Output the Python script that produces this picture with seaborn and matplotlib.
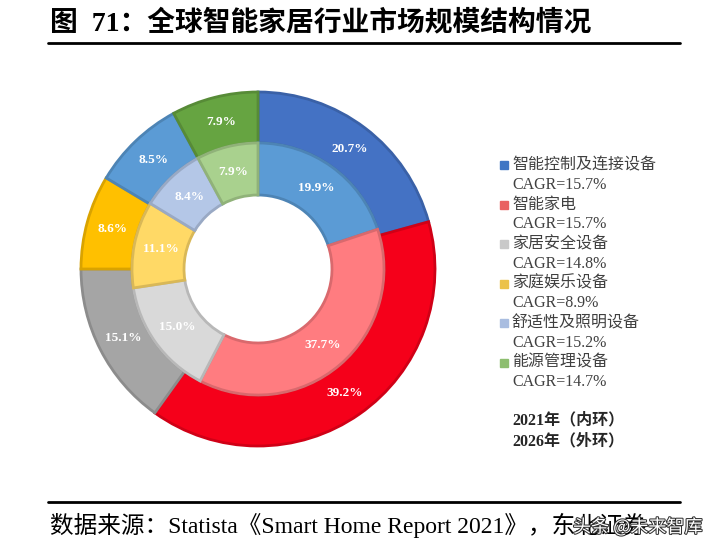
import numpy as np
import matplotlib
matplotlib.use("Agg")
import matplotlib.pyplot as plt
import matplotlib.colors as mcolors
import matplotlib.patheffects as pe
from matplotlib.patches import Rectangle
import seaborn as sns

# Data
categories = ["智能控制及连接设备", "智能家电", "家居安全设备", "家庭娱乐设备", "舒适性及照明设备", "能源管理设备"]
cagr = ["15.7%", "15.7%", "14.8%", "8.9%", "15.2%", "14.7%"]
share_2021 = [19.9, 37.7, 15.0, 11.1, 8.4, 7.9]   # inner ring
share_2026 = [20.7, 39.2, 15.1, 8.6, 8.5, 7.9]    # outer ring

outer_colors = ["#4472C4", "#F5001A", "#A5A5A5", "#FFC000", "#5B9BD5", "#66A441"]
inner_colors = ["#5B9BD5", "#FF7C80", "#D9D9D9", "#FFD966", "#B4C7E7", "#A9D18E"]
legend_colors = ["#3F76C4", "#E96262", "#C9C9C9", "#EBC24A", "#A9BDE0", "#8DBE6F"]

sns.set_theme(style="white")
plt.rcParams["font.family"] = ["Liberation Serif", "Noto Sans CJK SC", "DejaVu Sans"]

W, H = 719, 558
fig = plt.figure(figsize=(W / 100, H / 100), dpi=100)
fig.patch.set_facecolor("white")


def darker(c, f=0.85):
    return tuple(np.array(mcolors.to_rgb(c)) * f)


# donut: centre (258, 269) px, outer radius 177 px
cx, cy, R = 258, 269, 177
ax = fig.add_axes([(cx - R) / W, 1 - (cy + R) / H, 2 * R / W, 2 * R / H])

label_style = dict(color="white", fontsize=9.5, fontweight="bold")

outer, outer_txt = ax.pie(
    share_2026, radius=1.0, colors=outer_colors, startangle=90, counterclock=False,
    labels=[f"{v:.1f}%" for v in share_2026], labeldistance=0.855,
    wedgeprops=dict(width=0.288, linewidth=2), textprops=label_style,
)
inner, inner_txt = ax.pie(
    share_2021, radius=0.712, colors=inner_colors, startangle=90, counterclock=False,
    labels=[f"{v:.1f}%" for v in share_2021], labeldistance=0.79,
    wedgeprops=dict(width=0.294, linewidth=2), textprops=label_style,
)
for w, c in list(zip(outer, outer_colors)) + list(zip(inner, inner_colors)):
    w.set_edgecolor(darker(c))
for t in outer_txt + inner_txt:
    t.set_ha("center")
    t.set_va("center")
ax.set_xlim(-1, 1)
ax.set_ylim(-1, 1)

# overlay in pixel coordinates for title, legend and source
ov = fig.add_axes([0, 0, 1, 1])
ov.set_xlim(0, W)
ov.set_ylim(H, 0)
ov.axis("off")

ov.text(50, 23, "图  71：全球智能家居行业市场规模结构情况", fontsize=20,
        fontweight="bold", va="center", ha="left", color="black")
ov.plot([48, 680], [43, 43], color="black", lw=2)

# legend
for i, (name, g, col) in enumerate(zip(categories, cagr, legend_colors)):
    y0 = 165 + i * 39.5
    ov.add_patch(Rectangle((499.5, y0 - 4), 8, 8, color=col))
    ov.text(512, y0, name, fontsize=11.5, color="#404040", va="center", ha="left")
    ov.text(512, y0 + 19.8, f"CAGR={g}", fontsize=11.5, color="#404040", va="center", ha="left")

ov.text(512, 420, "2021年（内环）", fontsize=11.5, fontweight="bold", va="center", ha="left")
ov.text(512, 441, "2026年（外环）", fontsize=11.5, fontweight="bold", va="center", ha="left")

# source
ov.plot([48, 680], [502, 502], color="black", lw=2)
ov.text(50, 525, "数据来源：Statista《Smart Home Report 2021》，东北证券", fontsize=17,
        va="center", ha="left", color="black")
ov.text(573, 527, "头条 @未来智库", fontsize=13, color="white", va="center", ha="left",
        family=["Noto Sans CJK SC", "DejaVu Sans"],
        path_effects=[pe.withStroke(linewidth=1.5, foreground="#333333")])

fig.savefig("out.png", dpi=100, facecolor="white")
